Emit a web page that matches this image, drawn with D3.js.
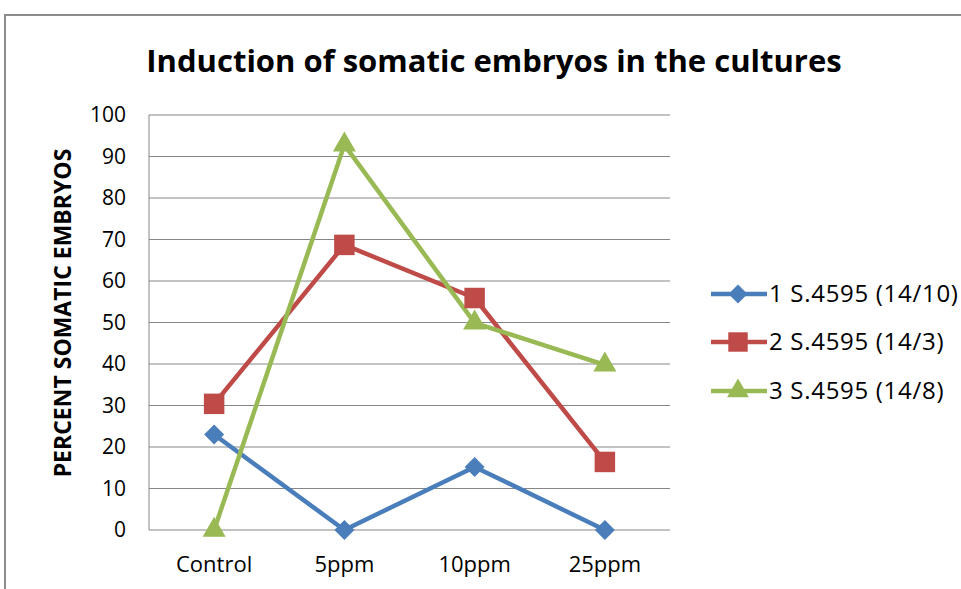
<!DOCTYPE html>
<html>
<head>
<meta charset="utf-8">
<script src="https://cdn.jsdelivr.net/npm/d3@7"></script>
<style>
  body { margin: 0; background: #fff; }
  svg { display: block; font-family: "Open Sans", "Noto Sans", sans-serif; }
</style>
</head>
<body>
<svg id="chart" width="961" height="589"></svg>
<script>
// categories and series
const categories = ['Control', '5ppm', '10ppm', '25ppm'];
const yTicks = [0, 10, 20, 30, 40, 50, 60, 70, 80, 90, 100];
const seriesNames = ['1 S.4595 (14/10)', '2 S.4595 (14/3)', '3 S.4595 (14/8)'];
const series1 = [23, 0, 15.2, 0];
const series2 = [30.4, 68.7, 55.9, 16.4];
const series3 = [0, 92.8, 49.9, 39.8];
const colors = ['#4a7ebb', '#be4b48', '#98b954'];

const svg = d3.select('#chart');

// outer frame
svg.append('path')
  .attr('d', 'M5,589 L5,15 L961,15')
  .attr('fill', 'none')
  .attr('stroke', '#8c8c8c')
  .attr('stroke-width', 2);

const plot = { left: 149, right: 670, top: 115, bottom: 530 };

const x = d3.scaleBand().domain(categories).range([plot.left, plot.right]);
const y = d3.scaleLinear().domain([0, 100]).range([plot.bottom, plot.top]);

// gridlines
svg.append('g')
  .selectAll('line')
  .data(yTicks)
  .join('line')
  .attr('x1', plot.left).attr('x2', plot.right)
  .attr('y1', d => y(d)).attr('y2', d => y(d))
  .attr('stroke', '#868686')
  .attr('stroke-width', 1);

// plot box left edge
svg.append('line')
  .attr('x1', plot.left).attr('x2', plot.left)
  .attr('y1', plot.top).attr('y2', plot.bottom)
  .attr('stroke', '#868686');

// y axis labels
const yAxis = d3.axisLeft(y).tickValues(yTicks).tickSize(0).tickPadding(23);
const gy = svg.append('g').attr('transform', `translate(${plot.left},0)`).call(yAxis);
gy.select('.domain').remove();
gy.selectAll('text').attr('font-size', 21).attr('fill', '#000').attr('font-family', '"Open Sans", sans-serif');

// x axis labels
const xAxis = d3.axisBottom(x).tickSize(0).tickPadding(26);
const gx = svg.append('g').attr('transform', `translate(0,${plot.bottom})`).call(xAxis);
gx.select('.domain').remove();
gx.selectAll('text').attr('font-size', 22).attr('fill', '#000').attr('font-family', '"Open Sans", sans-serif');

// title
svg.append('text')
  .attr('x', 494).attr('y', 72)
  .attr('text-anchor', 'middle')
  .attr('font-size', 31).attr('font-weight', 'bold')
  .text('Induction of somatic embryos in the cultures');

// y title
svg.append('text')
  .attr('transform', 'translate(71,313) rotate(-90)')
  .attr('text-anchor', 'middle')
  .attr('font-size', 23).attr('font-weight', 'bold')
  .text('PERCENT SOMATIC EMBRYOS');

// marker shapes: diamond = square turned 45deg
const markers = [
  { type: d3.symbolSquare, size: 200, rot: 45 },
  { type: d3.symbolSquare, size: 420, rot: 0 },
  { type: d3.symbolTriangle, size: 230, rot: 0 }
];

const allSeries = [series1, series2, series3];
const cx = c => x(c) + x.bandwidth() / 2;
const line = d3.line().x((d, i) => cx(categories[i])).y(d => y(d));

allSeries.forEach((vals, s) => {
  svg.append('path')
    .datum(vals)
    .attr('d', line)
    .attr('fill', 'none')
    .attr('stroke', colors[s])
    .attr('stroke-width', 4.5)
    .attr('stroke-linejoin', 'round');
});

allSeries.forEach((vals, s) => {
  const m = markers[s];
  svg.append('g')
    .selectAll('path')
    .data(vals)
    .join('path')
    .attr('transform', (d, i) => `translate(${cx(categories[i])},${y(d)}) rotate(${m.rot})`)
    .attr('d', d3.symbol().type(m.type).size(m.size))
    .attr('fill', colors[s]);
});

// legend
const legendY = [294, 342, 391];
const lg = svg.append('g');
seriesNames.forEach((name, s) => {
  const m = markers[s];
  const g = lg.append('g').attr('transform', `translate(711,${legendY[s]})`);
  g.append('line').attr('x1', 0).attr('x2', 56).attr('stroke', colors[s]).attr('stroke-width', 4.5);
  g.append('path').attr('transform', `translate(27,0) rotate(${m.rot})`)
    .attr('d', d3.symbol().type(m.type).size(m.size * 0.9)).attr('fill', colors[s]);
  g.append('text').attr('x', 58).attr('y', 8).attr('font-size', 24)
    .attr('letter-spacing', 0.7).text(name);
});
</script>
</body>
</html>
